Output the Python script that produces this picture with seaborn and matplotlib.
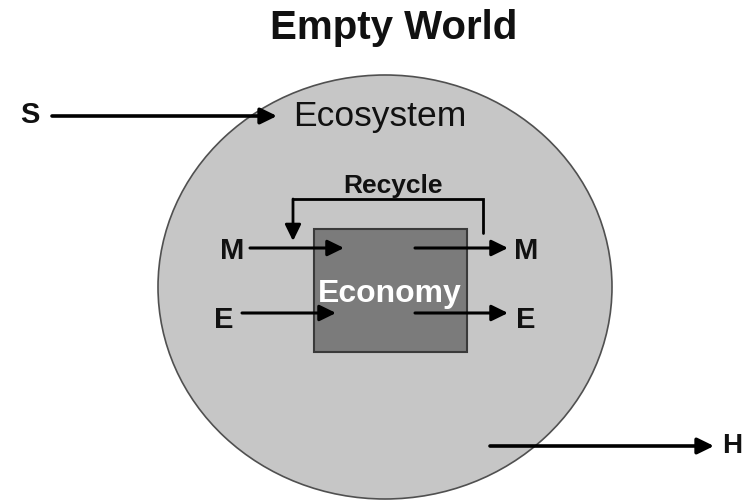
import matplotlib
matplotlib.use("Agg")
import matplotlib.pyplot as plt
from matplotlib.patches import Ellipse, Rectangle
import seaborn as sns

sns.set_theme(style="white")
plt.rcParams['font.family'] = ['Liberation Sans', 'DejaVu Sans']

# ---- content ----
title = "Empty World"
outer_label = "Ecosystem"
inner_label = "Economy"
recycle_label = "Recycle"
flow_in_labels = ["M", "E"]
flow_out_labels = ["M", "E"]
source_label = "S"
sink_label = "H"

# flow rows (pixel y of the arrows) and label baselines
flow_rows = [249, 314]
flow_label_base = [259, 328]

eco_fill = "#c6c6c6"
econ_fill = "#7b7b7b"

fig = plt.figure(figsize=(7.53, 5.02), dpi=100)
ax = fig.add_axes([0, 0, 1, 1])
ax.set_xlim(0, 753)
ax.set_ylim(502, 0)
ax.axis("off")

# Ecosystem
ax.add_patch(Ellipse((385, 288), 454, 424, facecolor=eco_fill,
                     edgecolor="#505050", lw=1.2, zorder=1))
# Economy box
ax.add_patch(Rectangle((314, 230), 153, 123, facecolor=econ_fill,
                       edgecolor="#3a3a3a", lw=1.5, zorder=2))

def arrow(x0, y0, x1, y1, lw=2.2):
    ax.annotate("", xy=(x1, y1), xytext=(x0, y0),
                arrowprops=dict(arrowstyle="-|>,head_length=0.45,head_width=0.22",
                                lw=lw, color="black", shrinkA=0, shrinkB=0,
                                mutation_scale=22),
                zorder=5)

# title
ax.text(394, 39, title, ha="center", va="baseline", fontsize=29,
        fontweight="bold", color="#111111")

# S arrow
ax.text(30, 123, source_label, ha="center", va="baseline", fontsize=21,
        fontweight="bold", color="#111111")
arrow(52, 117, 277, 117, lw=2.6)
ax.text(293, 126, outer_label, ha="left", va="baseline", fontsize=25.5,
        color="#111111")

# Recycle loop
ax.plot([483, 483, 293], [234, 200, 200], color="black", lw=2.0,
        solid_joinstyle="miter", zorder=5)
arrow(293, 200, 293, 242, lw=2.0)
ax.text(393, 193, recycle_label, ha="center", va="baseline", fontsize=19,
        fontweight="bold", color="#111111")

# flows in / out
in_starts = [250, 242]
for lab, y, yb, xs in zip(flow_in_labels, flow_rows, flow_label_base, in_starts):
    ax.text(xs - 18, yb, lab, ha="center", va="baseline", fontsize=21,
            fontweight="bold", color="#111111")
    arrow(xs, y, 344 if lab == "M" else 336, y)
for lab, y, yb in zip(flow_out_labels, flow_rows, flow_label_base):
    arrow(415, y, 508, y)
    ax.text(526, yb, lab, ha="center", va="baseline", fontsize=21,
            fontweight="bold", color="#111111")

ax.text(390, 302, inner_label, ha="center", va="baseline", fontsize=23,
        fontweight="bold", color="white", zorder=6)

# H arrow
arrow(490, 447, 714, 447, lw=2.6)
ax.text(732, 453, sink_label, ha="center", va="baseline", fontsize=20,
        fontweight="bold", color="#111111")

fig.savefig("out.png", dpi=100)
